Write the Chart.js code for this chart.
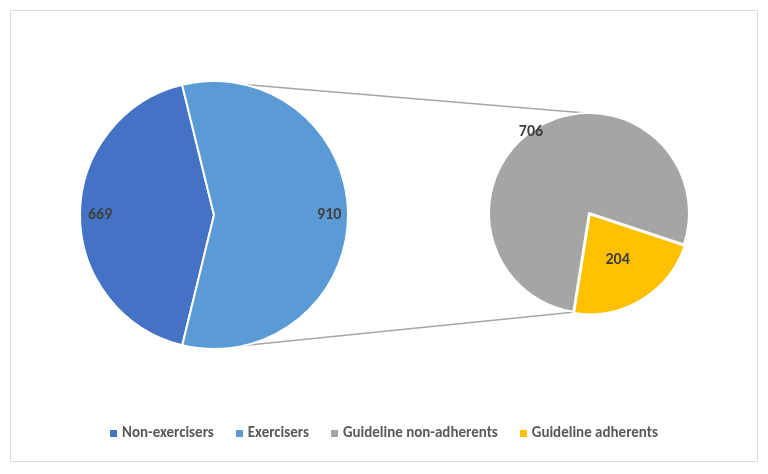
<!DOCTYPE html>
<html>
<head>
<meta charset="utf-8">
<script src="https://cdn.jsdelivr.net/npm/chart.js@4"></script>
<style>
  body { margin: 0; background: #fff; font-family: Calibri, "Liberation Sans", Arial, sans-serif; }
  #wrap { position: relative; width: 768px; height: 474px; }
  #frame { position: absolute; left: 10px; top: 10px; width: 746px; height: 450px; border: 1px solid #d9d9d9; }
  canvas { position: absolute; }
  #legend { position: absolute; left: 0; top: 423px; width: 768px; text-align: center; font-size: 15px; font-weight: bold; color: #595959; }
  #legend span { margin: 0 11px; }
  #legend i { display: inline-block; width: 7px; height: 7px; margin-right: 5px; vertical-align: middle; }
</style>
</head>
<body>
<div id="wrap">
  <div id="frame"></div>
  <canvas id="lines" width="768" height="474" style="left:0;top:0"></canvas>
  <canvas id="bigPie" style="left:69px;top:70px"></canvas>
  <canvas id="smallPie" style="left:474px;top:98px"></canvas>
  <div id="legend"></div>
</div>
<script>
// --- dữ liệu ---
const mainLabels = ['Non-exercisers', 'Exercisers'];
const mainValues = [669, 910];
const subLabels = ['Guideline non-adherents', 'Guideline adherents'];
const subValues = [706, 204];
const mainColors = ['#4472C4', '#5B9BD5'];
const subColors = ['#A5A5A5', '#FFC000'];

// nhãn số trên lát bánh
const valueLabels = {
  id: 'valueLabels',
  afterDatasetsDraw(chart, args, opts) {
    const ctx = chart.ctx;
    const meta = chart.getDatasetMeta(0);
    ctx.save();
    ctx.font = 'bold 16px Calibri, "Liberation Sans", Arial, sans-serif';
    ctx.fillStyle = '#404040';
    ctx.textAlign = 'center';
    ctx.textBaseline = 'middle';
    meta.data.forEach((arc, i) => {
      let a = (arc.startAngle + arc.endAngle) / 2;
      if (opts.angles && opts.angles[i] != null) a = opts.angles[i];
      const r = arc.outerRadius * opts.frac[i];
      ctx.fillText(chart.data.datasets[0].data[i], arc.x + Math.cos(a) * r, arc.y + Math.sin(a) * r);
    });
    ctx.restore();
  }
};

function makePie(id, size, values, colors, rotation, padding, offsets, labelOpts) {
  const c = document.getElementById(id);
  c.style.width = size + 'px';
  c.style.height = size + 'px';
  return new Chart(c, {
    type: 'pie',
    data: { datasets: [{ data: values, backgroundColor: colors, borderColor: '#fff', borderWidth: 2, offset: offsets }] },
    options: {
      responsive: false,
      animation: false,
      rotation: rotation,
      layout: { padding: padding },
      plugins: { legend: { display: false }, tooltip: { enabled: false }, valueLabels: labelOpts }
    },
    plugins: [valueLabels]
  });
}

const big = makePie('bigPie', 290, mainValues, mainColors, 193.7, 10, [0, 0], { frac: [0.85, 0.86] });
const small = makePie('smallPie', 230, subValues, subColors, 189, 11, [0, 6],
  { frac: [1.0, 0.55], angles: [-2.19, null] });

// đường nối giữa hai bánh
function drawConnectors() {
  const b = big.getDatasetMeta(0).data[0];
  const s = small.getDatasetMeta(0).data[0];
  const bx = 69 + b.x, by = 70 + b.y, br = b.outerRadius;
  const sx = 474 + s.x, sy = 98 + s.y, sr = s.outerRadius;
  const ctx = document.getElementById('lines').getContext('2d');
  ctx.strokeStyle = '#a6a6a6';
  ctx.lineWidth = 1.5;
  const deg = d => (d - 90) * Math.PI / 180;
  const pts = [[13, -2], [167, 188]];
  pts.forEach(([a1, a2]) => {
    ctx.beginPath();
    ctx.moveTo(bx + Math.cos(deg(a1)) * br, by + Math.sin(deg(a1)) * br);
    ctx.lineTo(sx + Math.cos(deg(a2)) * sr, sy + Math.sin(deg(a2)) * sr);
    ctx.stroke();
  });
}
drawConnectors();

// chú giải
const legend = document.getElementById('legend');
mainLabels.concat(subLabels).forEach((l, i) => {
  const col = mainColors.concat(subColors)[i];
  legend.innerHTML += `<span><i style="background:${col}"></i>${l}</span>`;
});
</script>
</body>
</html>
